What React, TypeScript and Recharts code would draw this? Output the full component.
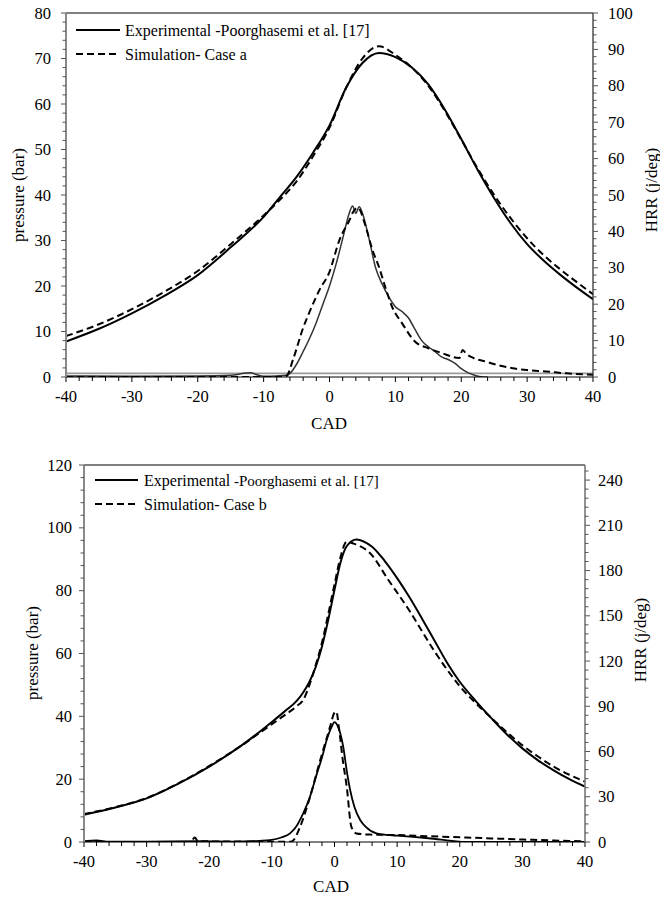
import React from 'react';
import { LineChart, Line, XAxis, YAxis, ReferenceLine, Legend, Label } from 'recharts';

// ---------- Data (CAD, value) ----------
// Case a
const aExpPressure: number[][] = [
  [-40, 7.8], [-35, 10.6], [-30, 14], [-25, 17.9], [-20, 22.4], [-15, 28.5], [-10, 35.2], [-7.5, 39.6],
  [-5, 44], [-2.5, 49.3], [0, 55.3], [2.5, 63.5], [5, 69], [7.5, 71.2], [10, 70.3], [12.5, 68],
  [15, 64.3], [17.5, 58.8], [20, 52.3], [22.5, 45.5], [25, 39.3], [27.5, 33.8], [30, 29.2], [32.5, 25.6],
  [35, 22.5], [37.5, 19.7], [40, 17.1],
];
const aSimPressure: number[][] = [
  [-40, 9.0], [-35, 11.6], [-30, 14.9], [-25, 18.8], [-20, 23.3], [-15, 29.2], [-10, 35.5], [-7.5, 39],
  [-5, 43], [-2.5, 48.5], [0, 54.8], [2.5, 63.5], [5, 70], [7.5, 72.7], [10, 70.8], [12.5, 68],
  [15, 64], [17.5, 58.5], [20, 52.2], [22.5, 45.8], [25, 40], [27.5, 34.9], [30, 30.5], [32.5, 26.8],
  [35, 23.7], [37.5, 20.9], [40, 18.2],
];
const aExpHRR: number[][] = [
  [-40, 0.3], [-30, 0.2], [-20, 0.3], [-15, 0.5], [-13, 1.0], [-12, 1.2], [-11, 0.6], [-10, 0.2],
  [-8, 0.3], [-6.5, 0.5], [-6, 1], [-5, 3.5], [-4, 7], [-3, 10.7], [-2, 15], [-1, 20], [0, 25],
  [1, 31], [2, 38], [3, 45], [3.5, 47], [4, 45], [4.5, 46.8], [5, 45], [6, 38], [7, 30], [8, 25.5],
  [9, 22], [10, 19.3], [11, 18], [12, 16.2], [13, 13], [14, 10], [15, 8.3], [16, 7], [17, 5.5],
  [18, 4.8], [19, 3.8], [20, 2.3], [21, 1.2], [22, 0.5], [23, 0.1], [24, 0],
];
const aSimHRR: number[][] = [
  [-40, 0], [-7, 0], [-6.5, 0.3], [-5.5, 5], [-4, 13.5], [-3, 18], [-1.5, 24], [0, 28.9], [1.5, 37.6],
  [3, 43], [3.6, 45.4], [4.3, 46.5], [5.5, 41.3], [6.5, 35], [7.5, 30.3], [8.5, 24.5], [9.5, 19.3],
  [11, 14.8], [13, 9.7], [15, 7.9], [17, 6.6], [19.7, 5.2], [20.2, 7.4], [20.8, 6.3], [21.5, 5.5],
  [23.8, 4.2], [25.5, 3.3], [27.8, 2.4], [30, 1.9], [32.9, 1.5], [36, 1.0], [40, 0.6],
];
const aHRRBaseline = 1;

// Case b
const bExpPressure: number[][] = [
  [-40, 8.7], [-35, 11], [-30, 13.9], [-25, 18.5], [-20, 24], [-15, 30.5], [-10, 38.2], [-8, 41.5],
  [-6, 45], [-5, 47.6], [-4, 51], [-3, 55.7], [-2, 62.2], [-1, 70.7], [0, 80.3], [1, 89.3], [2, 94.3],
  [3.5, 96.3], [5, 95.3], [6, 94], [8, 89.5], [10, 84], [12, 77.8], [14, 71], [16, 64], [18, 57],
  [20, 51], [22.5, 45], [25, 39.5], [27.5, 34.3], [30, 29.8], [32.5, 26], [35, 22.8], [37.5, 20],
  [40, 17.6],
];
const bSimPressure: number[][] = [
  [-40, 8.9], [-35, 11.1], [-30, 14], [-25, 18.6], [-20, 24.2], [-15, 30.5], [-10, 37.5], [-8, 40.3],
  [-6, 43.3], [-5, 45.2], [-4, 50], [-3, 56.3], [-2, 63.5], [-1, 72.5], [0, 82], [1, 91], [1.95, 95.6],
  [3, 95], [5.7, 91.9], [8.6, 83.4], [12, 73.5], [14, 67], [16, 60.6], [18, 54.8], [20, 49.6],
  [22.5, 44.3], [25, 39.6], [27.5, 35], [30, 30.8], [32.5, 27.2], [35, 24], [37.5, 21.4], [40, 19.2],
];
const bExpHRR: number[][] = [
  [-40, 0.5], [-38, 1], [-36, 0.3], [-30, 0.2], [-22, 0.5], [-16, 0.3], [-12, 0.8], [-10.3, 1.3],
  [-8.5, 3], [-7.1, 5.7], [-6, 11], [-5, 19], [-4, 29], [-2.8, 45.5], [-2, 56], [-1.25, 67.6],
  [-0.5, 76], [0, 79.5], [0.5, 77], [1.4, 63], [2, 46], [2.5, 34.5], [3.2, 23], [4.1, 14.6], [5, 10],
  [6.7, 5.7], [8.9, 4.5], [10, 4.2], [15, 2.5], [20, 0.2], [21, 0], [30, 0], [40, 0],
];
const bSimHRR: number[][] = [
  [-40, 0], [-23, 0], [-22.3, 3], [-21.8, 0.5], [-10, 0.2], [-7, 0.2], [-6.6, 1], [-5.5, 10],
  [-3.9, 30], [-2.3, 54], [-0.7, 76.5], [-0.1, 85], [0.3, 86.5], [0.7, 76], [1.3, 55], [1.95, 36.7],
  [2.7, 10], [3.5, 5.7], [5.7, 4.9], [10, 4.6], [15, 3.8], [21, 3], [29, 1.8], [35, 1], [40, 0.5],
];

const legendExp = ['Experimental', ' -Poorghasemi et al. [17]'];
const legendSimA = 'Simulation- Case a';
const legendSimB = 'Simulation- Case b';

// ---------- helpers ----------
const toPts = (arr: number[][]) => arr.map(([x, y]) => ({ x, y }));
const range = (a: number, b: number, s: number) => {
  const out: number[] = [];
  for (let v = a; v <= b + 1e-9; v += s) out.push(Math.round(v * 100) / 100);
  return out;
};

const FONT = "'Liberation Serif', 'Times New Roman', Times, serif";
const TICK_FS = 16.5;
const txtStyle = { fontFamily: FONT } as React.CSSProperties;

const XTick = (props: any) => {
  const { x, y, payload } = props;
  const major = payload.value % 10 === 0;
  return (
    <g>
      <line x1={x} x2={x} y1={y} y2={y + (major ? 5 : 4)} stroke="#000" strokeWidth={1} />
      {major && (
        <text x={x} y={y + 25} textAnchor="middle" style={{ ...txtStyle, fontSize: TICK_FS }} fill="#000">
          {payload.value}
        </text>
      )}
    </g>
  );
};

const makeYTick = (side: 'left' | 'right', majorStep: number, gap: number, color: string) => (props: any) => {
  const { x, y, payload } = props;
  const major = payload.value % majorStep === 0;
  const len = major ? 5 : 3.5;
  const dir = side === 'left' ? -1 : 1;
  return (
    <g>
      <line x1={x} x2={x + dir * len} y1={y} y2={y} stroke={color} strokeWidth={1} />
      {major && (
        <text
          x={x + dir * gap}
          y={y + 5.5}
          textAnchor={side === 'left' ? 'end' : 'start'}
          style={{ ...txtStyle, fontSize: TICK_FS }}
          fill="#000"
        >
          {payload.value}
        </text>
      )}
    </g>
  );
};

const TitleText = ({ x, y, text, rotate }: { x: number; y: number; text: string; rotate?: boolean }) => (
  <text
    x={x}
    y={y}
    textAnchor="middle"
    dominantBaseline="central"
    transform={rotate ? `rotate(-90 ${x} ${y})` : undefined}
    style={{ ...txtStyle, fontSize: 17 }}
    fill="#000"
  >
    {text}
  </text>
);

const LegendBox = ({ simLabel, smallSuffix, lineLen }: { simLabel: string; smallSuffix: boolean; lineLen: number }) => (
  <svg width={340} height={52} style={{ display: 'block', overflow: 'visible' }}>
    <line x1={0} x2={lineLen} y1={13} y2={13} stroke="#000" strokeWidth={2} />
    <text x={49} y={19} style={{ ...txtStyle, fontSize: 16 }} fill="#000">
      {legendExp[0]}
      <tspan style={{ fontSize: smallSuffix ? 15 : 16 }}>{legendExp[1]}</tspan>
    </text>
    <line x1={0} x2={lineLen} y1={37} y2={37} stroke="#000" strokeWidth={2} strokeDasharray="7 4" />
    <text x={49} y={43} style={{ ...txtStyle, fontSize: 16 }} fill="#000">
      {simLabel}
    </text>
  </svg>
);

export default function App() {
  const xTicks = range(-40, 40, 2);
  return (
    <div style={{ position: 'absolute', left: 0, top: 0, width: 660, height: 897, background: '#fff', fontFamily: FONT }}>
      {/* ---------- Case a ---------- */}
      <div style={{ position: 'absolute', left: 0, top: 0 }}>
        <LineChart width={660} height={440} margin={{ top: 13, right: 0, bottom: 0, left: 0 }} style={{ fontFamily: FONT }}>
          <XAxis
            dataKey="x"
            type="number"
            domain={[-40, 40]}
            ticks={xTicks}
            interval={0}
            tick={XTick}
            tickLine={false}
            tickSize={0}
            tickMargin={0}
            height={63}
            axisLine={{ stroke: '#000', strokeWidth: 1.2 }}
            allowDataOverflow
          >
            <Label content={() => <TitleText x={329} y={423} text="CAD" />} />
          </XAxis>
          <YAxis
            yAxisId="p"
            orientation="left"
            width={66}
            domain={[0, 80]}
            ticks={range(0, 80, 2)}
            interval={0}
            tick={makeYTick('left', 10, 15, '#555')}
            tickLine={false}
            tickSize={0}
            tickMargin={0}
            axisLine={{ stroke: '#8a8a8a', strokeWidth: 2 }}
            allowDataOverflow
          >
            <Label content={() => <TitleText x={18} y={195} text="pressure (bar)" rotate />} />
          </YAxis>
          <YAxis
            yAxisId="h"
            orientation="right"
            width={67}
            domain={[0, 100]}
            ticks={range(0, 100, 2)}
            interval={0}
            tick={makeYTick('right', 10, 15, '#555')}
            tickLine={false}
            tickSize={0}
            tickMargin={0}
            axisLine={{ stroke: '#222', strokeWidth: 1.2 }}
            allowDataOverflow
          >
            <Label content={() => <TitleText x={651} y={190} text="HRR (j/deg)" rotate />} />
          </YAxis>
          <ReferenceLine yAxisId="p" y={80} stroke="#000" strokeWidth={1} />
          <ReferenceLine yAxisId="h" y={aHRRBaseline} stroke="#9a9a9a" strokeWidth={1.6} />
          <Legend
            layout="horizontal"
            verticalAlign="middle"
            align="center"
            wrapperStyle={{ left: 76, top: 17, width: 340, height: 52 }}
            content={() => <LegendBox simLabel={legendSimA} smallSuffix={false} lineLen={44} />}
          />
          <Line yAxisId="h" data={toPts(aExpHRR)} dataKey="y" type="monotone" stroke="#333" strokeWidth={1.5} dot={false} isAnimationActive={false} name="Experimental HRR" />
          <Line yAxisId="h" data={toPts(aSimHRR)} dataKey="y" type="monotone" stroke="#000" strokeWidth={2} strokeDasharray="7 4" dot={false} isAnimationActive={false} name="Simulation HRR" />
          <Line yAxisId="p" data={toPts(aExpPressure)} dataKey="y" type="monotone" stroke="#000" strokeWidth={2} dot={false} isAnimationActive={false} name="Experimental pressure" />
          <Line yAxisId="p" data={toPts(aSimPressure)} dataKey="y" type="monotone" stroke="#000" strokeWidth={2} strokeDasharray="7 4" dot={false} isAnimationActive={false} name="Simulation pressure" />
        </LineChart>
      </div>

      {/* ---------- Case b ---------- */}
      <div style={{ position: 'absolute', left: 0, top: 440 }}>
        <LineChart width={660} height={457} margin={{ top: 25, right: 0, bottom: 0, left: 0 }} style={{ fontFamily: FONT }}>
          <XAxis
            dataKey="x"
            type="number"
            domain={[-40, 40]}
            ticks={xTicks}
            interval={0}
            tick={XTick}
            tickLine={false}
            tickSize={0}
            tickMargin={0}
            height={55}
            axisLine={{ stroke: '#000', strokeWidth: 1.2 }}
            allowDataOverflow
          >
            <Label content={() => <TitleText x={331} y={446} text="CAD" />} />
          </XAxis>
          <YAxis
            yAxisId="p"
            orientation="left"
            width={84}
            domain={[0, 120]}
            ticks={range(0, 120, 4)}
            interval={0}
            tick={makeYTick('left', 20, 12, '#555')}
            tickLine={false}
            tickSize={0}
            tickMargin={0}
            axisLine={{ stroke: '#8a8a8a', strokeWidth: 2 }}
            allowDataOverflow
          >
            <Label content={() => <TitleText x={32} y={213} text="pressure (bar)" rotate />} />
          </YAxis>
          <YAxis
            yAxisId="h"
            orientation="right"
            width={75}
            domain={[0, 250]}
            ticks={range(0, 246, 6)}
            interval={0}
            tick={makeYTick('right', 30, 13, '#555')}
            tickLine={false}
            tickSize={0}
            tickMargin={0}
            axisLine={{ stroke: '#777', strokeWidth: 1.6 }}
            allowDataOverflow
          >
            <Label content={() => <TitleText x={640} y={200} text="HRR (j/deg)" rotate />} />
          </YAxis>
          <ReferenceLine yAxisId="p" y={120} stroke="#000" strokeWidth={1} />
          <Legend
            layout="horizontal"
            verticalAlign="middle"
            align="center"
            wrapperStyle={{ left: 95, top: 27, width: 340, height: 52 }}
            content={() => <LegendBox simLabel={legendSimB} smallSuffix={true} lineLen={43} />}
          />
          <Line yAxisId="h" data={toPts(bExpHRR)} dataKey="y" type="monotone" stroke="#000" strokeWidth={1.8} dot={false} isAnimationActive={false} name="Experimental HRR" />
          <Line yAxisId="h" data={toPts(bSimHRR)} dataKey="y" type="monotone" stroke="#000" strokeWidth={2} strokeDasharray="7 4" dot={false} isAnimationActive={false} name="Simulation HRR" />
          <Line yAxisId="p" data={toPts(bExpPressure)} dataKey="y" type="monotone" stroke="#000" strokeWidth={2} dot={false} isAnimationActive={false} name="Experimental pressure" />
          <Line yAxisId="p" data={toPts(bSimPressure)} dataKey="y" type="monotone" stroke="#000" strokeWidth={2} strokeDasharray="7 4" dot={false} isAnimationActive={false} name="Simulation pressure" />
        </LineChart>
      </div>
    </div>
  );
}
